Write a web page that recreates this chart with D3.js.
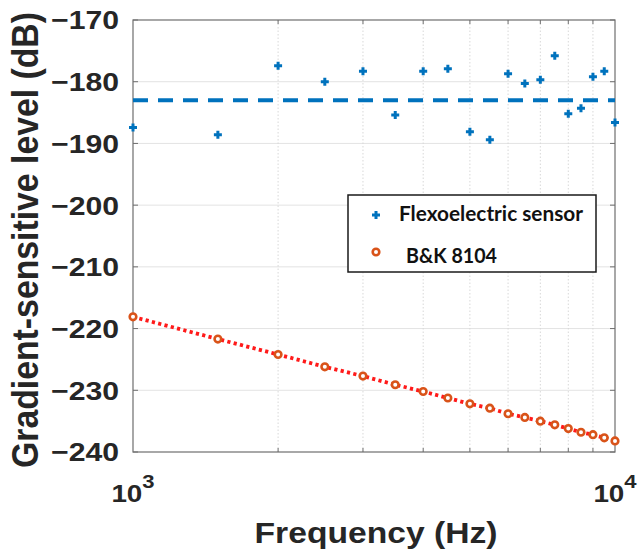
<!DOCTYPE html>
<html><head><meta charset="utf-8">
<script src="https://cdn.jsdelivr.net/npm/d3@7"></script>
<style>body{margin:0;background:#fff}svg{display:block}</style>
</head><body>
<svg id="c" width="639" height="556"></svg>
<script>
const freqs = [1000,1500,2000,2500,3000,3500,4000,4500,5000,5500,6000,6500,7000,7500,8000,8500,9000,9500,10000];
const flexo = [-187.4,-188.6,-177.4,-180.0,-178.3,-185.4,-178.3,-177.9,-188.1,-189.4,-178.7,-180.3,-179.7,-175.8,-185.2,-184.3,-179.2,-178.3,-186.6];
const bk = [-218.1,-221.7,-224.2,-226.2,-227.7,-229.1,-230.2,-231.25,-232.2,-232.9,-233.8,-234.4,-235.0,-235.6,-236.2,-236.8,-237.2,-237.7,-238.2];
const flexoMean = -183.0;
const yTicks = [-240,-230,-220,-210,-200,-190,-180,-170];
const xMajor = [1000,10000];
const xMinor = [2000,3000,4000,5000,6000,7000,8000,9000];
const seriesNames = ["Flexoelectric sensor","B&K 8104"];
const axisLabels = {x:"Frequency (Hz)", y:"Gradient-sensitive level (dB)"};

const svg = d3.select("#c");
const L=133, R=615, T=20, B=452;
const SX = 1.16; // horizontal stretch of the original figure text
const x = d3.scaleLog().domain([1000,10000]).range([L,R]);
const y = d3.scaleLinear().domain([-240,-170]).range([B,T]);
const txt = "#262626";
const arial = "'Liberation Sans', Arial, sans-serif";

// grid
const g = svg.append("g");
g.selectAll(".yg").data(yTicks.slice(1,-1)).join("line")
  .attr("x1",L).attr("x2",R).attr("y1",d=>y(d)).attr("y2",d=>y(d))
  .attr("stroke","#e3e3e3").attr("stroke-width",1);
g.selectAll(".xg").data(xMinor).join("line")
  .attr("x1",d=>x(d)).attr("x2",d=>x(d)).attr("y1",T).attr("y2",B)
  .attr("stroke","#d8d8d8").attr("stroke-width",1).attr("stroke-dasharray","1.5,2");

// axes box
svg.append("rect").attr("x",L).attr("y",T).attr("width",R-L).attr("height",B-T)
  .attr("fill","none").attr("stroke","#6e6e6e").attr("stroke-width",1.2);
svg.selectAll(".yt").data(yTicks).join("path")
  .attr("d",d=>`M${L},${y(d)}h5M${R},${y(d)}h-5`).attr("stroke","#6e6e6e").attr("stroke-width",1);
svg.selectAll(".xt").data(xMinor).join("path")
  .attr("d",d=>`M${x(d)},${B}v-4M${x(d)},${T}v4`).attr("stroke","#6e6e6e").attr("stroke-width",1);

// y tick labels
svg.selectAll(".yl").data(yTicks).join("g")
  .attr("transform",d=>`translate(119,${y(d)}) scale(${SX},1)`)
  .append("text").attr("dy","0.36em").attr("text-anchor","end").attr("fill",txt)
  .style("font",`bold 26px ${arial}`)
  .text(d=>"\u2212"+Math.abs(d));
// x tick labels
const xl = svg.selectAll(".xl").data(xMajor).join("g")
  .attr("transform",d=>`translate(${x(d)},502) scale(${SX},1)`)
  .append("text").attr("text-anchor","middle").attr("fill",txt)
  .style("font",`bold 24px ${arial}`);
xl.append("tspan").text("10");
xl.append("tspan").attr("dy",-14).style("font-size","19px").text(d=>Math.round(Math.log10(d)));

// axis labels
svg.append("g").attr("transform",`translate(376,543) scale(${SX},1)`)
  .append("text").attr("text-anchor","middle").attr("fill",txt)
  .style("font",`bold 29px ${arial}`).text(axisLabels.x);
svg.append("g").attr("transform",`translate(38,240) scale(${SX},1) rotate(-90)`)
  .append("text").attr("text-anchor","middle").attr("fill",txt)
  .attr("textLength",456).attr("lengthAdjust","spacingAndGlyphs")
  .style("font",`bold 32px ${arial}`).text(axisLabels.y);

// mean dashed line
svg.append("line").attr("x1",L).attr("x2",R).attr("y1",y(flexoMean)).attr("y2",y(flexoMean))
  .attr("stroke","#0072BD").attr("stroke-width",3.8).attr("stroke-dasharray","15,10");

// red dotted line
svg.append("path").datum(freqs.map((f,i)=>[f,bk[i]]))
  .attr("d",d3.line().x(d=>x(d[0])).y(d=>y(d[1])))
  .attr("fill","none").attr("stroke","#ff1a1a").attr("stroke-width",3.8).attr("stroke-dasharray","3.2,3.3");

// B&K circles
svg.selectAll(".bk").data(freqs).join("circle")
  .attr("cx",d=>x(d)).attr("cy",(d,i)=>y(bk[i])).attr("r",3.3)
  .attr("fill","#fff").attr("stroke","#D95319").attr("stroke-width",2.6);

// flexo plus
const plus = "M-4,0H4M0,-4V4";
svg.selectAll(".fx").data(freqs).join("path")
  .attr("transform",(d,i)=>`translate(${x(d)},${y(flexo[i])})`)
  .attr("d",plus).attr("stroke","#0072BD").attr("stroke-width",3);

// legend
const lg = svg.append("g");
lg.append("rect").attr("x",348).attr("y",195).attr("width",248).attr("height",77)
  .attr("fill","#fff").attr("stroke","#1a1a1a").attr("stroke-width",1.5);
lg.append("path").attr("transform","translate(376,215)").attr("d",plus)
  .attr("stroke","#0072BD").attr("stroke-width",3);
lg.append("circle").attr("cx",376).attr("cy",252).attr("r",3.3)
  .attr("fill","#fff").attr("stroke","#D95319").attr("stroke-width",2.6);
lg.append("text").attr("x",399).attr("y",221).attr("fill","#111")
  .attr("textLength",184).attr("lengthAdjust","spacingAndGlyphs")
  .style("font","bold 20px Lato, 'Open Sans', sans-serif").text(seriesNames[0]);
lg.append("text").attr("x",406).attr("y",263).attr("fill","#111")
  .attr("textLength",91).attr("lengthAdjust","spacingAndGlyphs")
  .style("font","bold 20px Lato, 'Open Sans', sans-serif").text(seriesNames[1]);
</script>
</body></html>
